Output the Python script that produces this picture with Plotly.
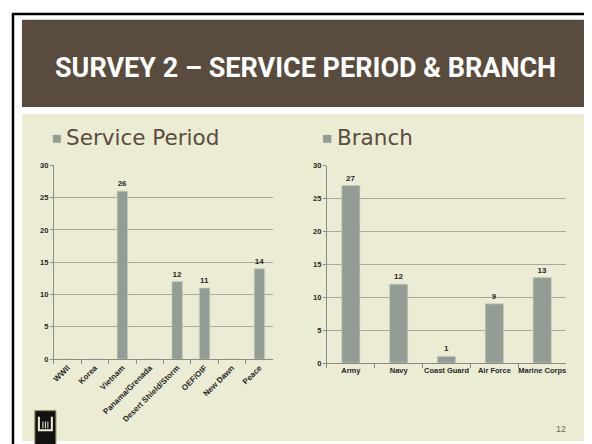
import plotly.graph_objects as go

# ---- data ----
period_categories = ["WWII", "Korea", "Vietnam", "Panama/Grenada",
                     "Desert Shield/Storm", "OEF/OIF", "New Dawn", "Peace"]
period_values = [0, 0, 26, 0, 12, 11, 0, 14]
period_name = "Service Period"

branch_categories = ["Army", "Navy", "Coast Guard", "Air Force", "Marine Corps"]
branch_values = [27, 12, 1, 9, 13]
branch_name = "Branch"

title_text = "SURVEY 2 \u2013 SERVICE PERIOD & BRANCH"
page_number = "12"

# ---- style ----
W, H = 592, 444
OFF = 8  # page body margin in the browser
BROWN = "#594C3E"
PANEL = "#ECEBD3"
BAR = "#929E94"
GRID = "#A8A8A0"
AXIS = "#8C8C86"
TXT = "#262626"


def fx(p):
    return (p - OFF) / W


def fy(p):
    return 1 - (p - OFF) / H


def labels(vals):
    return [str(v) if v else "" for v in vals]


fig = go.Figure()

fig.add_trace(go.Bar(
    x=period_categories, y=period_values, name=period_name,
    marker=dict(color=BAR, line=dict(color="#C9CFC3", width=0.6)),
    text=labels(period_values), textposition="outside",
    textfont=dict(family="Liberation Sans", size=8, color=TXT, weight="bold"),
    cliponaxis=False, xaxis="x", yaxis="y", showlegend=False,
))
fig.add_trace(go.Bar(
    x=branch_categories, y=branch_values, name=branch_name,
    marker=dict(color=BAR, line=dict(color="#C9CFC3", width=0.6)),
    text=labels(branch_values), textposition="outside",
    textfont=dict(family="Liberation Sans", size=8, color=TXT, weight="bold"),
    cliponaxis=False, xaxis="x2", yaxis="y2", showlegend=False,
))

tickfont = dict(family="Liberation Sans", size=7.5, color=TXT, weight="bold")

common_y = dict(range=[0, 30], dtick=5, showgrid=True, gridcolor=GRID, gridwidth=1,
                showline=True, linecolor=AXIS, linewidth=1, ticks="outside",
                ticklen=3, tickcolor=AXIS, tickfont=tickfont, zeroline=False,
                fixedrange=True)
common_x = dict(showline=True, linecolor=AXIS, linewidth=1, ticks="outside",
                ticklen=4, tickcolor=AXIS, tickson="boundaries",
                fixedrange=True)

shapes = [
    # outer frame
    dict(type="rect", xref="paper", yref="paper", x0=fx(11), x1=fx(620), y0=fy(480), y1=fy(10),
         line=dict(color="#000000", width=2.5), fillcolor="rgba(0,0,0,0)", layer="below"),
    # header band
    dict(type="rect", xref="paper", yref="paper", x0=fx(20), x1=fx(600), y0=fy(105), y1=fy(16),
         line=dict(width=0), fillcolor=BROWN, layer="below"),
    # content panel
    dict(type="rect", xref="paper", yref="paper", x0=fx(20), x1=fx(600), y0=fy(446), y1=fy(112),
         line=dict(width=0), fillcolor=PANEL, layer="below"),
    # legend squares
    dict(type="rect", xref="paper", yref="paper", x0=fx(51), x1=fx(59), y0=fy(141.5), y1=fy(133.5),
         line=dict(width=0), fillcolor=BAR),
    dict(type="rect", xref="paper", yref="paper", x0=fx(322), x1=fx(330.5), y0=fy(141.5), y1=fy(133.5),
         line=dict(width=0), fillcolor=BAR),
    # logo
    dict(type="rect", xref="paper", yref="paper", x0=fx(33), x1=fx(54), y0=fy(452), y1=fy(415),
         line=dict(color="#8A7A55", width=1), fillcolor="#111111"),
    dict(type="path", xref="paper", yref="paper",
         path=(f"M {fx(37)},{fy(421)} L {fx(37)},{fy(435)} L {fx(50)},{fy(435)} L {fx(50)},{fy(421)}"),
         line=dict(color="#F2EEDC", width=2), fillcolor="rgba(0,0,0,0)"),
    dict(type="path", xref="paper", yref="paper",
         path=(f"M {fx(41)},{fy(426)} L {fx(41)},{fy(433)} M {fx(43.5)},{fy(426)} L {fx(43.5)},{fy(433)} "
               f"M {fx(46)},{fy(426)} L {fx(46)},{fy(433)}"),
         line=dict(color="#F2EEDC", width=1), fillcolor="rgba(0,0,0,0)"),
]

annotations = [
    dict(text=title_text, xref="paper", yref="paper", x=fx(305), y=fy(65),
         xanchor="center", yanchor="middle", showarrow=False,
         font=dict(family="Roboto", size=27, color="#FFFFFF", weight="bold")),
    dict(text=period_name, xref="paper", yref="paper", x=fx(62), y=fy(136),
         xanchor="left", yanchor="middle", showarrow=False,
         font=dict(family="DejaVu Sans", size=21.5, color=BROWN)),
    dict(text=branch_name, xref="paper", yref="paper", x=fx(334), y=fy(136),
         xanchor="left", yanchor="middle", showarrow=False,
         font=dict(family="DejaVu Sans", size=21.5, color=BROWN)),
    dict(text=page_number, xref="paper", yref="paper", x=fx(561), y=fy(434),
         xanchor="center", yanchor="middle", showarrow=False,
         font=dict(family="Liberation Sans", size=9, color="#6E6A5E")),
]

fig.update_layout(
    width=W, height=H,
    margin=dict(l=0, r=0, t=0, b=0),
    paper_bgcolor="#FFFFFF", plot_bgcolor="rgba(0,0,0,0)",
    bargap=0.62,
    xaxis=dict(domain=[fx(52), fx(272)], anchor="y", tickangle=-45,
               tickfont=dict(family="Liberation Sans", size=8, color=TXT, weight="bold"),
               **common_x),
    yaxis=dict(domain=[fy(362.3), fy(164.5)], anchor="x", **common_y),
    xaxis2=dict(domain=[fx(326), fx(566)], anchor="y2", tickangle=0, tickfont=tickfont,
                **common_x),
    yaxis2=dict(domain=[fy(366.3), fy(165)], anchor="x2", **common_y),
    shapes=shapes, annotations=annotations,
    showlegend=False,
)

fig.write_html("out.html")
